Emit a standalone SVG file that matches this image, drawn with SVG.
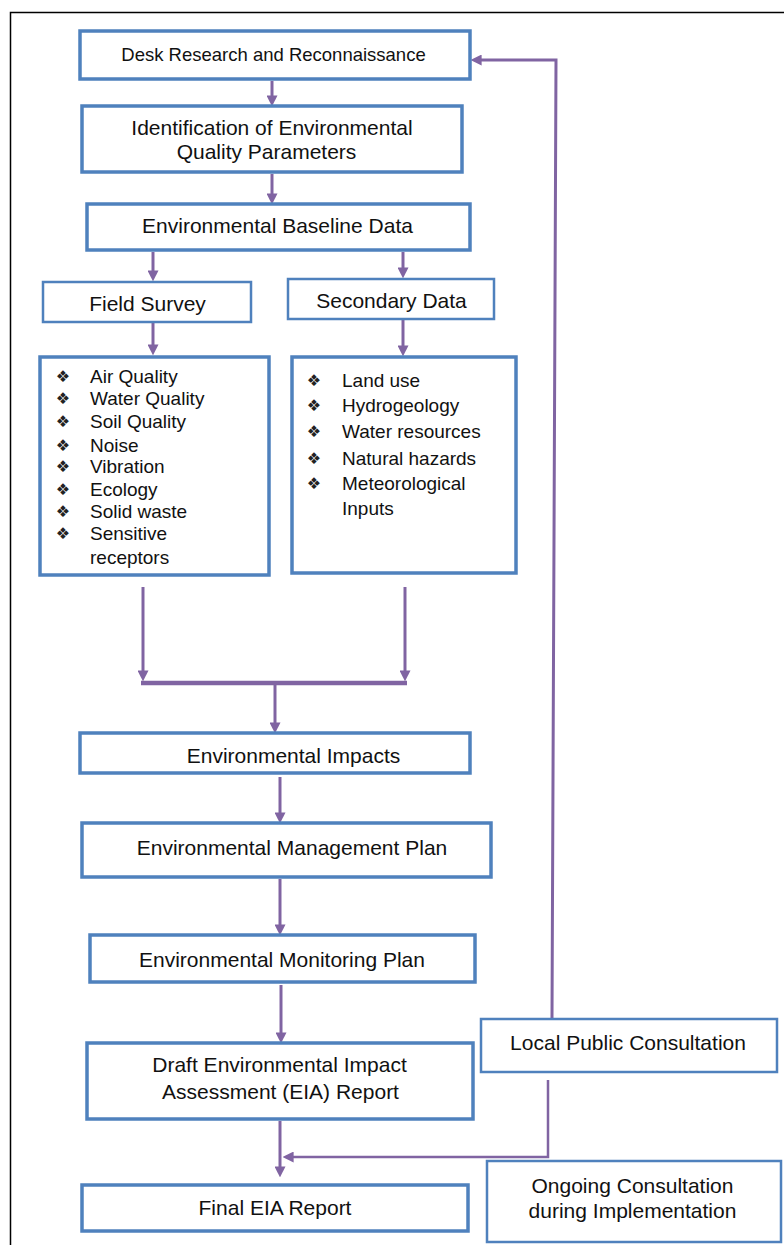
<svg xmlns="http://www.w3.org/2000/svg" width="784" height="1245" viewBox="0 0 784 1245">
<defs>
<style>
.box{fill:#fff;stroke:#4f81bd;stroke-width:3.5}
.thin{stroke-width:2.5}
.t{font-family:"Liberation Sans",Arial,sans-serif;font-size:21px;fill:#111;text-anchor:middle}
.li{font-family:"Liberation Sans",Arial,sans-serif;font-size:19px;fill:#111}
.bu{font-family:"DejaVu Sans",sans-serif;font-size:16px;fill:#222;text-anchor:middle}
.c{fill:none;stroke:#8064a2;stroke-width:3}
</style>
<marker id="ah" viewBox="0 0 10 10" markerWidth="11" markerHeight="11" refX="6" refY="5" orient="auto" markerUnits="userSpaceOnUse">
<path d="M0,0 L10,5 L0,10 z" fill="#8064a2"/>
</marker>
</defs>
<rect width="784" height="1245" fill="#fff"/>
<rect x="10.5" y="12.5" width="800" height="1300" fill="none" stroke="#000" stroke-width="1.5"/>

<g id="connectors">
<line class="c" x1="272" y1="81" x2="272" y2="102" marker-end="url(#ah)"/>
<line class="c" x1="272" y1="174" x2="272" y2="200" marker-end="url(#ah)"/>
<line class="c" x1="153" y1="252" x2="153" y2="277" marker-end="url(#ah)"/>
<line class="c" x1="403" y1="252" x2="403" y2="274" marker-end="url(#ah)"/>
<line class="c" x1="153" y1="323" x2="153" y2="351" marker-end="url(#ah)"/>
<line class="c" x1="403" y1="320" x2="403" y2="352" marker-end="url(#ah)"/>
<line class="c" x1="143" y1="587" x2="143" y2="677" marker-end="url(#ah)"/>
<line class="c" x1="405" y1="587" x2="405" y2="677" marker-end="url(#ah)"/>
<line class="c" x1="141" y1="683" x2="407" y2="683" style="stroke-width:4.5"/>
<line class="c" x1="275" y1="683" x2="275" y2="729" marker-end="url(#ah)"/>
<line class="c" x1="280" y1="777" x2="280" y2="819" marker-end="url(#ah)"/>
<line class="c" x1="280" y1="879" x2="280" y2="931" marker-end="url(#ah)"/>
<line class="c" x1="281" y1="985" x2="281" y2="1039" marker-end="url(#ah)"/>
<line class="c" x1="280" y1="1121" x2="280" y2="1173" marker-end="url(#ah)"/>
<polyline class="c" points="552,1018 556,60 475,60" marker-end="url(#ah)"/>
<polyline class="c" points="548,1080 548,1157 287,1157" style="stroke-width:2.5" marker-end="url(#ah)"/>
</g>

<g id="n1"><rect class="box" x="80" y="31" width="390" height="48"/>
<text class="t" x="273.5" y="61" style="font-size:18.5px">Desk Research and Reconnaissance</text></g>

<g id="n2"><rect class="box" x="82" y="106" width="380" height="66"/>
<text class="t" x="272" y="135">Identification of Environmental</text>
<text class="t" x="266.5" y="159">Quality Parameters</text></g>

<g id="n3"><rect class="box" x="87" y="204" width="383" height="46"/>
<text class="t" x="277.5" y="233">Environmental Baseline Data</text></g>

<g id="n4"><rect class="box thin" x="43" y="282" width="208" height="40"/>
<text class="t" x="147.5" y="311">Field Survey</text></g>

<g id="n5"><rect class="box thin" x="288" y="279" width="206" height="40"/>
<text class="t" x="391.5" y="308">Secondary Data</text></g>

<g id="n6"><rect class="box" x="40" y="357" width="229" height="218"/>
<text class="bu" x="63" y="382">❖</text><text class="li" x="90" y="383">Air Quality</text>
<text class="bu" x="63" y="404">❖</text><text class="li" x="90" y="405">Water Quality</text>
<text class="bu" x="63" y="427">❖</text><text class="li" x="90" y="428">Soil Quality</text>
<text class="bu" x="63" y="451">❖</text><text class="li" x="90" y="452">Noise</text>
<text class="bu" x="63" y="472">❖</text><text class="li" x="90" y="473">Vibration</text>
<text class="bu" x="63" y="495">❖</text><text class="li" x="90" y="496">Ecology</text>
<text class="bu" x="63" y="517">❖</text><text class="li" x="90" y="518">Solid waste</text>
<text class="bu" x="63" y="539">❖</text><text class="li" x="90" y="540">Sensitive</text>
<text class="li" x="90" y="564">receptors</text></g>

<g id="n7"><rect class="box" x="292" y="357" width="224" height="216"/>
<text class="bu" x="314" y="386">❖</text><text class="li" x="342" y="387">Land use</text>
<text class="bu" x="314" y="411">❖</text><text class="li" x="342" y="412">Hydrogeology</text>
<text class="bu" x="314" y="437">❖</text><text class="li" x="342" y="438">Water resources</text>
<text class="bu" x="314" y="464">❖</text><text class="li" x="342" y="465">Natural hazards</text>
<text class="bu" x="314" y="489">❖</text><text class="li" x="342" y="490">Meteorological</text>
<text class="li" x="342" y="515">Inputs</text></g>

<g id="n8"><rect class="box" x="80" y="733" width="390" height="40"/>
<text class="t" x="293.5" y="763">Environmental Impacts</text></g>

<g id="n9"><rect class="box" x="82" y="823" width="409" height="54"/>
<text class="t" x="292" y="855">Environmental Management Plan</text></g>

<g id="n10"><rect class="box" x="90" y="935" width="385" height="47"/>
<text class="t" x="282" y="967">Environmental Monitoring Plan</text></g>

<g id="n11"><rect class="box" x="87" y="1043" width="386" height="76"/>
<text class="t" x="279.5" y="1072">Draft Environmental Impact</text>
<text class="t" x="280.5" y="1099">Assessment (EIA) Report</text></g>

<g id="n12"><rect class="box" x="82" y="1185" width="386" height="46"/>
<text class="t" x="275" y="1215">Final EIA Report</text></g>

<g id="n13"><rect class="box thin" x="481" y="1019" width="296" height="53"/>
<text class="t" x="628" y="1050">Local Public Consultation</text></g>

<g id="n14"><rect class="box thin" x="487" y="1161" width="294" height="81"/>
<text class="t" x="632.5" y="1193">Ongoing Consultation</text>
<text class="t" x="632.5" y="1218">during Implementation</text></g>
</svg>
